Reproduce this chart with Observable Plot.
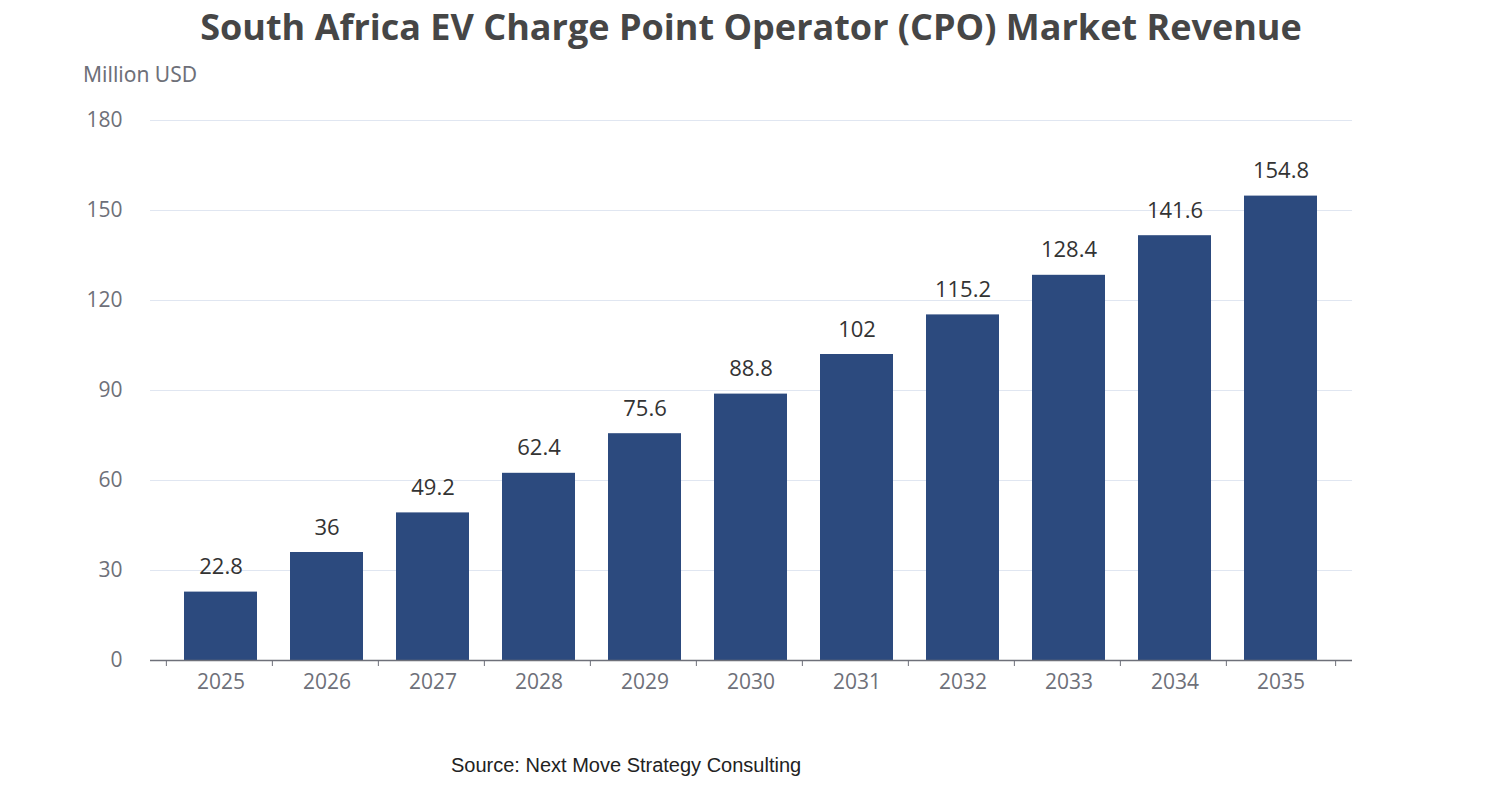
<!DOCTYPE html>
<html><head><meta charset="utf-8">
<script src="https://cdn.jsdelivr.net/npm/d3@7"></script>
<script src="https://cdn.jsdelivr.net/npm/@observablehq/plot@0.6"></script>
<style>
body{margin:0;background:#fff;font-family:"Microsoft YaHei","Noto Sans","Open Sans",sans-serif;}
#wrap{position:relative;width:1502px;height:800px;}
#title{position:absolute;top:2px;left:0;width:1502px;text-align:center;font-weight:bold;font-size:36px;color:#464646;font-family:"Open Sans","Noto Sans",sans-serif;}
#unit{position:absolute;top:60px;left:83px;font-size:21px;color:#6e7079;}
#src{position:absolute;top:754px;left:451px;font-size:20px;color:#222;font-family:"Liberation Sans",Arial,sans-serif;}
</style></head><body>
<div id="wrap"><div id="title">South Africa EV Charge Point Operator (CPO) Market Revenue</div>
<div id="unit">Million USD</div><div id="chart"></div>
<div id="src">Source: Next Move Strategy Consulting</div></div>
<script>
const years = ["2025","2026","2027","2028","2029","2030","2031","2032","2033","2034","2035"];
const revenue = [22.8,36,49.2,62.4,75.6,88.8,102,115.2,128.4,141.6,154.8];
const yTicks = [0,30,60,90,120,150,180];
const data = years.map((y,i)=>({year:y,value:revenue[i]}));
const half = (1352-150)/years.length/2;
const chart = Plot.plot({
  width:1502,height:800,marginTop:120,marginBottom:140,marginLeft:150,marginRight:150,
  style:{fontSize:"21px",fontFamily:"'Open Sans','Noto Sans',sans-serif",color:"#6e7079"},
  x:{domain:years,padding:0.31,label:null,tickSize:0,tickPadding:14},
  y:{domain:[0,180],ticks:yTicks,label:null,tickSize:0,tickPadding:28},
  marks:[
    Plot.gridY(yTicks.filter(d=>d>0),{stroke:"#e0e6f1",strokeOpacity:1}),
    Plot.barY(data,{x:"year",y:"value",fill:"#2c4a7e"}),
    Plot.ruleY([0],{stroke:"#6e7079",strokeWidth:1.5}),
    Plot.ruleX(years,{x:d=>d,y1:0,y2:0,dx:-half,insetBottom:-6,stroke:"#6e7079"}),
    Plot.ruleX([years[years.length-1]],{x:d=>d,y1:0,y2:0,dx:half,insetBottom:-6,stroke:"#6e7079"}),
    Plot.text(data,{x:"year",y:"value",text:d=>String(d.value),dy:-25,fill:"#333",fontSize:22})
  ]
});
document.getElementById("chart").appendChild(chart);
</script></body></html>
